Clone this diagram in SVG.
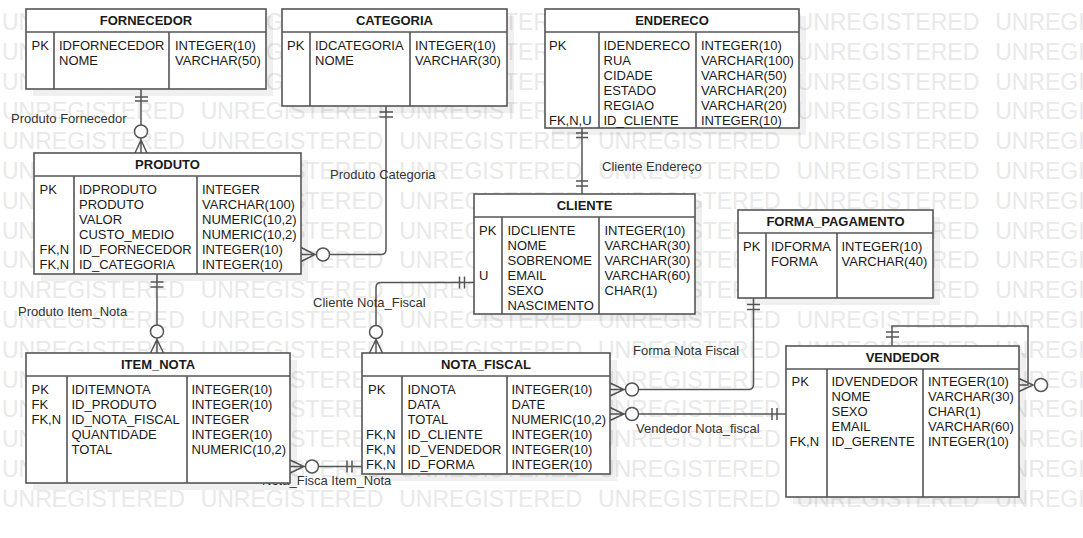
<svg xmlns="http://www.w3.org/2000/svg" width="1083" height="538" viewBox="0 0 1083 538">
<style>
.bg{fill:#ffffff}
.wm{font-family:"Liberation Sans",Arial,sans-serif;font-size:23px;fill:#e9e9e9;word-spacing:9.5px}
.sh{fill:#000;fill-opacity:0.06}
.box{fill:#ffffff;stroke:#555;stroke-width:1.6}
.dv{stroke:#555;stroke-width:1.6;fill:none}
.t{font-family:"Liberation Sans",Arial,sans-serif;font-size:13px;fill:#1a1a1a}
.h{font-family:"Liberation Sans",Arial,sans-serif;font-size:13px;font-weight:bold;fill:#1a1a1a;text-anchor:middle}
.ln{stroke:#555;stroke-width:1.5;fill:none}
.ci{stroke:#555;stroke-width:1.5;fill:#fff}
.lb{font-family:"Liberation Sans",Arial,sans-serif;font-size:13px;fill:#333}
</style>
<rect class="bg" x="0" y="0" width="1083" height="538"/>
<g id="watermark">
<text class="wm" x="2" y="30">UNREGISTERED UNREGISTERED UNREGISTERED UNREGISTERED UNREGISTERED UNREGISTERED</text>
<text class="wm" x="2" y="59.8">UNREGISTERED UNREGISTERED UNREGISTERED UNREGISTERED UNREGISTERED UNREGISTERED</text>
<text class="wm" x="2" y="89.6">UNREGISTERED UNREGISTERED UNREGISTERED UNREGISTERED UNREGISTERED UNREGISTERED</text>
<text class="wm" x="2" y="119.4">UNREGISTERED UNREGISTERED UNREGISTERED UNREGISTERED UNREGISTERED UNREGISTERED</text>
<text class="wm" x="2" y="149.2">UNREGISTERED UNREGISTERED UNREGISTERED UNREGISTERED UNREGISTERED UNREGISTERED</text>
<text class="wm" x="2" y="179">UNREGISTERED UNREGISTERED UNREGISTERED UNREGISTERED UNREGISTERED UNREGISTERED</text>
<text class="wm" x="2" y="208.8">UNREGISTERED UNREGISTERED UNREGISTERED UNREGISTERED UNREGISTERED UNREGISTERED</text>
<text class="wm" x="2" y="238.6">UNREGISTERED UNREGISTERED UNREGISTERED UNREGISTERED UNREGISTERED UNREGISTERED</text>
<text class="wm" x="2" y="268.4">UNREGISTERED UNREGISTERED UNREGISTERED UNREGISTERED UNREGISTERED UNREGISTERED</text>
<text class="wm" x="2" y="298.2">UNREGISTERED UNREGISTERED UNREGISTERED UNREGISTERED UNREGISTERED UNREGISTERED</text>
<text class="wm" x="2" y="328">UNREGISTERED UNREGISTERED UNREGISTERED UNREGISTERED UNREGISTERED UNREGISTERED</text>
<text class="wm" x="2" y="357.8">UNREGISTERED UNREGISTERED UNREGISTERED UNREGISTERED UNREGISTERED UNREGISTERED</text>
<text class="wm" x="2" y="387.6">UNREGISTERED UNREGISTERED UNREGISTERED UNREGISTERED UNREGISTERED UNREGISTERED</text>
<text class="wm" x="2" y="417.4">UNREGISTERED UNREGISTERED UNREGISTERED UNREGISTERED UNREGISTERED UNREGISTERED</text>
<text class="wm" x="2" y="447.2">UNREGISTERED UNREGISTERED UNREGISTERED UNREGISTERED UNREGISTERED UNREGISTERED</text>
<text class="wm" x="2" y="477">UNREGISTERED UNREGISTERED UNREGISTERED UNREGISTERED UNREGISTERED UNREGISTERED</text>
<text class="wm" x="2" y="506.8">UNREGISTERED UNREGISTERED UNREGISTERED UNREGISTERED UNREGISTERED UNREGISTERED</text>
</g>

<g id="connectors">
<!-- Produto Fornecedor -->
<path class="ln" d="M141,89 V153 M135,97 H148 M135,101 H148 M135,153 L141,140 L147,153"/>
<circle class="ci" cx="141" cy="131.5" r="6.5"/>
<!-- Produto Categoria -->
<path class="ln" d="M386,106 V249.5 Q386,254.5 381,254.5 H301 M379.5,112 H393 M379.5,117 H393 M301,247.5 L315,254.5 L301,261.5"/>
<circle class="ci" cx="323" cy="254.5" r="6.5"/>
<!-- Cliente Endereco -->
<path class="ln" d="M582,128 V194 M576,133 H588 M576,137.5 H588 M576,181 H588 M576,186 H588"/>
<!-- Cliente Nota_Fiscal -->
<path class="ln" d="M474,282.5 H381 Q376,282.5 376,287.5 V353 M459.5,276.5 V288.5 M464.5,276.5 V288.5 M369.5,353 L376,339.5 L382.5,353"/>
<circle class="ci" cx="376" cy="332" r="6.5"/>
<!-- Produto Item_Nota -->
<path class="ln" d="M157,274 V353 M150.5,282 H163.5 M150.5,287 H163.5 M150.5,353 L157,339.5 L163.5,353"/>
<circle class="ci" cx="157" cy="331.5" r="6.5"/>
<!-- Nota_Fisca Item_Nota -->
<path class="ln" d="M290,466.5 H362 M290,460 L304,466.5 L290,473 M347,460.5 V472.5 M352,460.5 V472.5"/>
<circle class="ci" cx="312" cy="466.5" r="6.5"/>
<!-- Forma Nota Fiscal -->
<path class="ln" d="M753.5,298 V384.5 Q753.5,389.5 748.5,389.5 H610 M747,304.5 H760 M747,309.5 H760 M610,383 L624,389.5 L610,396"/>
<circle class="ci" cx="632" cy="389.5" r="6.5"/>
<!-- Vendedor Nota_fiscal -->
<path class="ln" d="M610,414 H786 M610,407.5 L624,414 L610,420.5 M772,408 V420 M777,408 V420"/>
<circle class="ci" cx="632" cy="414" r="6.5"/>
<!-- Vendedor self -->
<path class="ln" d="M892,346 V326 H1028 V385 H1019 M886,332 H899 M886,337 H899 M1019,378.5 L1033,385 L1019,391.5"/>
<circle class="ci" cx="1041" cy="385" r="6.5"/>
<text class="lb" x="11" y="122.5">Produto Fornecedor</text>
<text class="lb" x="330" y="179">Produto Categoria</text>
<text class="lb" x="602" y="171">Cliente Endereço</text>
<text class="lb" x="313" y="306.5">Cliente Nota_Fiscal</text>
<text class="lb" x="18" y="315.5">Produto Item_Nota</text>
<text class="lb" x="262" y="485">Nota_Fisca Item_Nota</text>
<text class="lb" x="633" y="355">Forma Nota Fiscal</text>
<text class="lb" x="636" y="432.5">Vendedor Nota_fiscal</text>
</g>

<g id="fornecedor">
<rect class="sh" x="33" y="16" width="240" height="80"/>
<rect class="box" x="26" y="9" width="240" height="80"/>
<path class="dv" d="M26,32 H266 M54,32 V89 M169,32 V89"/>
<text class="h" x="146" y="25">FORNECEDOR</text>
<text class="t" x="31.5" y="49.5">PK</text>
<text class="t" x="59" y="49.5">IDFORNECEDOR</text>
<text class="t" x="175" y="49.5">INTEGER(10)</text>
<text class="t" x="59" y="64.5">NOME</text>
<text class="t" x="175" y="64.5">VARCHAR(50)</text>
</g>

<g id="categoria">
<rect class="sh" x="289" y="16" width="225" height="97"/>
<rect class="box" x="282" y="9" width="225" height="97"/>
<path class="dv" d="M282,32 H507 M310,32 V106 M410,32 V106"/>
<text class="h" x="394.5" y="25">CATEGORIA</text>
<text class="t" x="287" y="49.5">PK</text>
<text class="t" x="315" y="49.5">IDCATEGORIA</text>
<text class="t" x="415" y="49.5">INTEGER(10)</text>
<text class="t" x="315" y="64.5">NOME</text>
<text class="t" x="415" y="64.5">VARCHAR(30)</text>
</g>

<g id="endereco">
<rect class="sh" x="552" y="16" width="254" height="119"/>
<rect class="box" x="545" y="9" width="254" height="119"/>
<path class="dv" d="M545,32 H799 M599,32 V128 M696,32 V128"/>
<text class="h" x="672" y="25">ENDERECO</text>
<text class="t" x="549" y="50">PK</text>
<text class="t" x="603.5" y="50">IDENDERECO</text>
<text class="t" x="701" y="50">INTEGER(10)</text>
<text class="t" x="603.5" y="65">RUA</text>
<text class="t" x="701" y="65">VARCHAR(100)</text>
<text class="t" x="603.5" y="80">CIDADE</text>
<text class="t" x="701" y="80">VARCHAR(50)</text>
<text class="t" x="603.5" y="95">ESTADO</text>
<text class="t" x="701" y="95">VARCHAR(20)</text>
<text class="t" x="603.5" y="110">REGIAO</text>
<text class="t" x="701" y="110">VARCHAR(20)</text>
<text class="t" x="549" y="125">FK,N,U</text>
<text class="t" x="603.5" y="125">ID_CLIENTE</text>
<text class="t" x="701" y="125">INTEGER(10)</text>
</g>

<g id="produto">
<rect class="sh" x="41" y="160" width="267" height="121"/>
<rect class="box" x="34" y="153" width="267" height="121"/>
<path class="dv" d="M34,176 H301 M74,176 V274 M197,176 V274"/>
<text class="h" x="167.5" y="169">PRODUTO</text>
<text class="t" x="39.5" y="193.5">PK</text>
<text class="t" x="79" y="193.5">IDPRODUTO</text>
<text class="t" x="202" y="193.5">INTEGER</text>
<text class="t" x="79" y="208.5">PRODUTO</text>
<text class="t" x="202" y="208.5">VARCHAR(100)</text>
<text class="t" x="79" y="223.5">VALOR</text>
<text class="t" x="202" y="223.5">NUMERIC(10,2)</text>
<text class="t" x="79" y="238.5">CUSTO_MEDIO</text>
<text class="t" x="202" y="238.5">NUMERIC(10,2)</text>
<text class="t" x="39.5" y="253.5">FK,N</text>
<text class="t" x="79" y="253.5">ID_FORNECEDOR</text>
<text class="t" x="202" y="253.5">INTEGER(10)</text>
<text class="t" x="39.5" y="268.5">FK,N</text>
<text class="t" x="79" y="268.5">ID_CATEGORIA</text>
<text class="t" x="202" y="268.5">INTEGER(10)</text>
</g>

<g id="cliente">
<rect class="sh" x="481" y="201" width="221" height="120"/>
<rect class="box" x="474" y="194" width="221" height="120"/>
<path class="dv" d="M474,217 H695 M502,217 V314 M599,217 V314"/>
<text class="h" x="584.5" y="210">CLIENTE</text>
<text class="t" x="479" y="234.5">PK</text>
<text class="t" x="507.5" y="234.5">IDCLIENTE</text>
<text class="t" x="604.5" y="234.5">INTEGER(10)</text>
<text class="t" x="507.5" y="249.5">NOME</text>
<text class="t" x="604.5" y="249.5">VARCHAR(30)</text>
<text class="t" x="507.5" y="264.5">SOBRENOME</text>
<text class="t" x="604.5" y="264.5">VARCHAR(30)</text>
<text class="t" x="479" y="279.5">U</text>
<text class="t" x="507.5" y="279.5">EMAIL</text>
<text class="t" x="604.5" y="279.5">VARCHAR(60)</text>
<text class="t" x="507.5" y="294.5">SEXO</text>
<text class="t" x="604.5" y="294.5">CHAR(1)</text>
<text class="t" x="507.5" y="309.5">NASCIMENTO</text>
</g>

<g id="forma_pagamento">
<rect class="sh" x="745" y="217" width="195" height="88"/>
<rect class="box" x="738" y="210" width="195" height="88"/>
<path class="dv" d="M738,233 H933 M766,233 V298 M837,233 V298"/>
<text class="h" x="835.5" y="226">FORMA_PAGAMENTO</text>
<text class="t" x="743" y="250.5">PK</text>
<text class="t" x="771" y="250.5">IDFORMA</text>
<text class="t" x="841.5" y="250.5">INTEGER(10)</text>
<text class="t" x="771" y="265.5">FORMA</text>
<text class="t" x="841.5" y="265.5">VARCHAR(40)</text>
</g>

<g id="item_nota">
<rect class="sh" x="33" y="360" width="264" height="130"/>
<rect class="box" x="26" y="353" width="264" height="130"/>
<path class="dv" d="M26,376 H290 M67,376 V483 M187,376 V483"/>
<text class="h" x="158" y="369">ITEM_NOTA</text>
<text class="t" x="31.5" y="393.5">PK</text>
<text class="t" x="71.5" y="393.5">IDITEMNOTA</text>
<text class="t" x="191.5" y="393.5">INTEGER(10)</text>
<text class="t" x="31.5" y="408.5">FK</text>
<text class="t" x="71.5" y="408.5">ID_PRODUTO</text>
<text class="t" x="191.5" y="408.5">INTEGER(10)</text>
<text class="t" x="31.5" y="423.5">FK,N</text>
<text class="t" x="71.5" y="423.5">ID_NOTA_FISCAL</text>
<text class="t" x="191.5" y="423.5">INTEGER</text>
<text class="t" x="71.5" y="438.5">QUANTIDADE</text>
<text class="t" x="191.5" y="438.5">INTEGER(10)</text>
<text class="t" x="71.5" y="453.5">TOTAL</text>
<text class="t" x="191.5" y="453.5">NUMERIC(10,2)</text>
</g>

<g id="nota_fiscal">
<rect class="sh" x="369" y="360" width="248" height="121"/>
<rect class="box" x="362" y="353" width="248" height="121"/>
<path class="dv" d="M362,376 H610 M402,376 V474 M507,376 V474"/>
<text class="h" x="486" y="369">NOTA_FISCAL</text>
<text class="t" x="368" y="393.5">PK</text>
<text class="t" x="407.5" y="393.5">IDNOTA</text>
<text class="t" x="511.5" y="393.5">INTEGER(10)</text>
<text class="t" x="407.5" y="408.5">DATA</text>
<text class="t" x="511.5" y="408.5">DATE</text>
<text class="t" x="407.5" y="423.5">TOTAL</text>
<text class="t" x="511.5" y="423.5">NUMERIC(10,2)</text>
<text class="t" x="366" y="438.5">FK,N</text>
<text class="t" x="407.5" y="438.5">ID_CLIENTE</text>
<text class="t" x="511.5" y="438.5">INTEGER(10)</text>
<text class="t" x="366" y="453.5">FK,N</text>
<text class="t" x="407.5" y="453.5">ID_VENDEDOR</text>
<text class="t" x="511.5" y="453.5">INTEGER(10)</text>
<text class="t" x="366" y="468.5">FK,N</text>
<text class="t" x="407.5" y="468.5">ID_FORMA</text>
<text class="t" x="511.5" y="468.5">INTEGER(10)</text>
</g>

<g id="vendedor">
<rect class="sh" x="793" y="353" width="233" height="151"/>
<rect class="box" x="786" y="346" width="233" height="151"/>
<path class="dv" d="M786,369 H1019 M827,369 V497 M923,369 V497"/>
<text class="h" x="902.5" y="362">VENDEDOR</text>
<text class="t" x="791.5" y="385.5">PK</text>
<text class="t" x="831.5" y="385.5">IDVENDEDOR</text>
<text class="t" x="928" y="385.5">INTEGER(10)</text>
<text class="t" x="831.5" y="400.5">NOME</text>
<text class="t" x="928" y="400.5">VARCHAR(30)</text>
<text class="t" x="831.5" y="415.5">SEXO</text>
<text class="t" x="928" y="415.5">CHAR(1)</text>
<text class="t" x="831.5" y="430.5">EMAIL</text>
<text class="t" x="928" y="430.5">VARCHAR(60)</text>
<text class="t" x="789.5" y="445.5">FK,N</text>
<text class="t" x="831.5" y="445.5">ID_GERENTE</text>
<text class="t" x="928" y="445.5">INTEGER(10)</text>
</g>
</svg>
